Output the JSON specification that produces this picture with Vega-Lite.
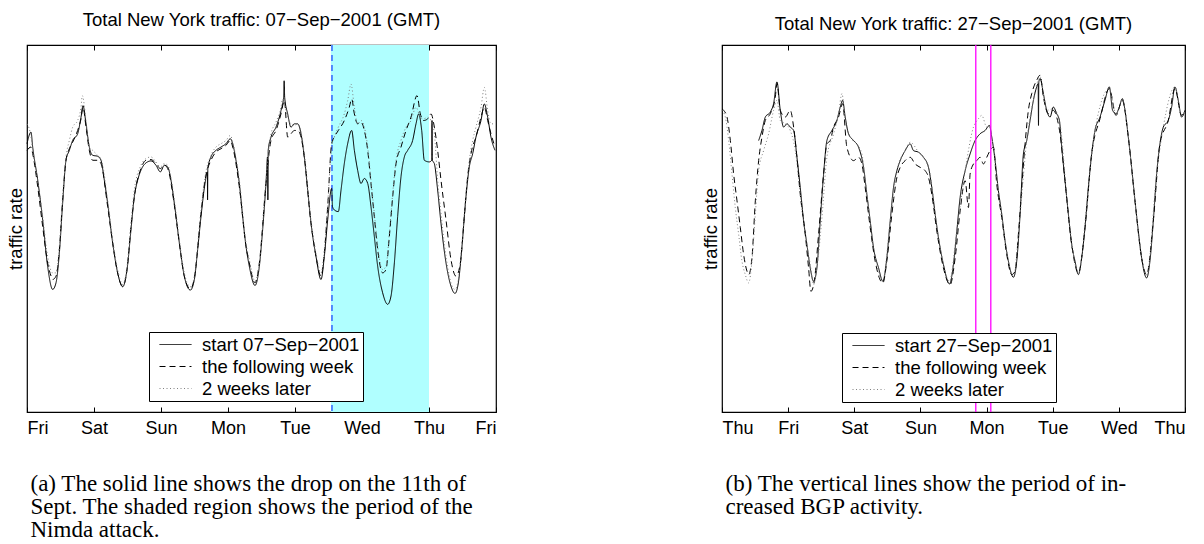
{
"$schema": "https://vega.github.io/schema/vega-lite/v6.json",
"background": "white",
"padding": {"left": 5, "top": 10, "right": 0, "bottom": 0},
"spacing": 202,
"resolve": {"scale": {"color": "independent", "strokeDash": "independent"}, "legend": {"color": "independent", "strokeDash": "independent"}},
"config": {
  "view": {"stroke": "black", "strokeWidth": 1.2},
  "font": "Liberation Sans",
  "axis": {"grid": false, "domain": false, "labelFont": "Liberation Sans", "labelFontSize": 18, "labelColor": "black", "tickColor": "black", "titleColor": "black", "titleFontWeight": "normal", "titleFont": "Liberation Sans"},
  "legend": {"orient": "none", "strokeColor": "black", "fillColor": "white", "padding": 3, "labelFontSize": 18.5, "labelFont": "Liberation Sans", "labelColor": "black", "symbolType": "M-0.22,0H3.33", "symbolSize": 324, "symbolStrokeWidth": 1, "labelOffset": 31, "rowPadding": 3, "labelLimit": 400, "strokeWidth": 1},
  "title": {"fontSize": 18.5, "fontWeight": "normal", "color": "black", "font": "Liberation Sans"}
},
"datasets": {
  "shadeA": [{"x1": 4.537, "x2": 6}],
  "ruleA": [{"x": 4.552}],
  "ruleB": [{"x": 3.837}, {"x": 4.064}],
  "left": [
{"s":"start","d":0,"v":810},{"s":"start","d":0.06,"v":845},{"s":"start","d":0.085,"v":800},{"s":"start","d":0.16,"v":700},{"s":"start","d":0.234,"v":580},{"s":"start","d":0.308,"v":440},{"s":"start","d":0.383,"v":370},{"s":"start","d":0.433,"v":390},{"s":"start","d":0.483,"v":480},{"s":"start","d":0.532,"v":630},{"s":"start","d":0.582,"v":760},{"s":"start","d":0.632,"v":790},{"s":"start","d":0.682,"v":820},{"s":"start","d":0.756,"v":840},{"s":"start","d":0.806,"v":890},{"s":"start","d":0.836,"v":925},{"s":"start","d":0.881,"v":870},{"s":"start","d":0.93,"v":800},{"s":"start","d":0.98,"v":775},{"s":"start","d":1.055,"v":772},{"s":"start","d":1.104,"v":760},{"s":"start","d":1.154,"v":700},{"s":"start","d":1.204,"v":630},{"s":"start","d":1.279,"v":510},{"s":"start","d":1.353,"v":420},{"s":"start","d":1.428,"v":378},{"s":"start","d":1.493,"v":430},{"s":"start","d":1.552,"v":550},{"s":"start","d":1.602,"v":650},{"s":"start","d":1.652,"v":700},{"s":"start","d":1.701,"v":730},{"s":"start","d":1.776,"v":752},{"s":"start","d":1.851,"v":758},{"s":"start","d":1.925,"v":745},{"s":"start","d":1.99,"v":725},{"s":"start","d":2.05,"v":745},{"s":"start","d":2.1,"v":740},{"s":"start","d":2.149,"v":700},{"s":"start","d":2.199,"v":630},{"s":"start","d":2.274,"v":510},{"s":"start","d":2.348,"v":410},{"s":"start","d":2.438,"v":368},{"s":"start","d":2.498,"v":400},{"s":"start","d":2.547,"v":490},{"s":"start","d":2.597,"v":590},{"s":"start","d":2.657,"v":690},{"s":"start","d":2.692,"v":725},{"s":"start","d":2.695,"v":640},{"s":"start","d":2.699,"v":735},{"s":"start","d":2.746,"v":770},{"s":"start","d":2.821,"v":790},{"s":"start","d":2.896,"v":800},{"s":"start","d":2.97,"v":810},{"s":"start","d":3.035,"v":825},{"s":"start","d":3.07,"v":810},{"s":"start","d":3.119,"v":760},{"s":"start","d":3.169,"v":690},{"s":"start","d":3.219,"v":590},{"s":"start","d":3.269,"v":500},{"s":"start","d":3.318,"v":440},{"s":"start","d":3.403,"v":382},{"s":"start","d":3.468,"v":440},{"s":"start","d":3.517,"v":550},{"s":"start","d":3.567,"v":690},{"s":"start","d":3.59,"v":770},{"s":"start","d":3.595,"v":640},{"s":"start","d":3.6,"v":790},{"s":"start","d":3.642,"v":830},{"s":"start","d":3.716,"v":860},{"s":"start","d":3.791,"v":910},{"s":"start","d":3.83,"v":950},{"s":"start","d":3.838,"v":1000},{"s":"start","d":3.846,"v":950},{"s":"start","d":3.891,"v":900},{"s":"start","d":3.94,"v":860},{"s":"start","d":3.99,"v":870},{"s":"start","d":4.04,"v":870},{"s":"start","d":4.09,"v":840},{"s":"start","d":4.139,"v":770},{"s":"start","d":4.189,"v":670},{"s":"start","d":4.239,"v":570},{"s":"start","d":4.313,"v":470},{"s":"start","d":4.388,"v":400},{"s":"start","d":4.438,"v":470},{"s":"start","d":4.488,"v":580},{"s":"start","d":4.547,"v":675},{"s":"start","d":4.56,"v":620},{"s":"start","d":4.587,"v":610},{"s":"start","d":4.647,"v":605},{"s":"start","d":4.687,"v":670},{"s":"start","d":4.736,"v":750},{"s":"start","d":4.786,"v":810},{"s":"start","d":4.846,"v":850},{"s":"start","d":4.886,"v":790},{"s":"start","d":4.935,"v":730},{"s":"start","d":4.985,"v":690},{"s":"start","d":5.035,"v":705},{"s":"start","d":5.085,"v":690},{"s":"start","d":5.134,"v":620},{"s":"start","d":5.184,"v":530},{"s":"start","d":5.234,"v":440},{"s":"start","d":5.308,"v":360},{"s":"start","d":5.383,"v":325},{"s":"start","d":5.433,"v":350},{"s":"start","d":5.483,"v":450},{"s":"start","d":5.532,"v":590},{"s":"start","d":5.582,"v":710},{"s":"start","d":5.632,"v":770},{"s":"start","d":5.682,"v":790},{"s":"start","d":5.756,"v":820},{"s":"start","d":5.806,"v":870},{"s":"start","d":5.846,"v":900},{"s":"start","d":5.891,"v":850},{"s":"start","d":5.93,"v":760},{"s":"start","d":6.005,"v":755},{"s":"start","d":6.04,"v":760},{"s":"start","d":6.045,"v":880},{"s":"start","d":6.05,"v":760},{"s":"start","d":6.08,"v":750},{"s":"start","d":6.129,"v":670},{"s":"start","d":6.179,"v":570},{"s":"start","d":6.254,"v":450},{"s":"start","d":6.328,"v":380},{"s":"start","d":6.388,"v":358},{"s":"start","d":6.438,"v":390},{"s":"start","d":6.488,"v":490},{"s":"start","d":6.552,"v":650},{"s":"start","d":6.602,"v":740},{"s":"start","d":6.652,"v":780},{"s":"start","d":6.701,"v":830},{"s":"start","d":6.776,"v":880},{"s":"start","d":6.826,"v":930},{"s":"start","d":6.876,"v":890},{"s":"start","d":6.925,"v":830},{"s":"start","d":6.985,"v":790},
{"s":"next","d":0,"v":790},{"s":"next","d":0.06,"v":800},{"s":"next","d":0.085,"v":780},{"s":"next","d":0.16,"v":680},{"s":"next","d":0.234,"v":560},{"s":"next","d":0.308,"v":450},{"s":"next","d":0.36,"v":410},{"s":"next","d":0.383,"v":400},{"s":"next","d":0.433,"v":410},{"s":"next","d":0.483,"v":490},{"s":"next","d":0.532,"v":640},{"s":"next","d":0.582,"v":760},{"s":"next","d":0.632,"v":795},{"s":"next","d":0.682,"v":815},{"s":"next","d":0.756,"v":850},{"s":"next","d":0.806,"v":885},{"s":"next","d":0.836,"v":920},{"s":"next","d":0.881,"v":860},{"s":"next","d":0.93,"v":790},{"s":"next","d":0.98,"v":760},{"s":"next","d":1.055,"v":760},{"s":"next","d":1.104,"v":750},{"s":"next","d":1.204,"v":620},{"s":"next","d":1.279,"v":510},{"s":"next","d":1.353,"v":420},{"s":"next","d":1.428,"v":380},{"s":"next","d":1.493,"v":430},{"s":"next","d":1.552,"v":560},{"s":"next","d":1.602,"v":650},{"s":"next","d":1.701,"v":735},{"s":"next","d":1.776,"v":760},{"s":"next","d":1.851,"v":762},{"s":"next","d":1.925,"v":750},{"s":"next","d":1.99,"v":735},{"s":"next","d":2.05,"v":745},{"s":"next","d":2.1,"v":735},{"s":"next","d":2.199,"v":625},{"s":"next","d":2.274,"v":510},{"s":"next","d":2.348,"v":410},{"s":"next","d":2.438,"v":372},{"s":"next","d":2.498,"v":405},{"s":"next","d":2.597,"v":600},{"s":"next","d":2.657,"v":700},{"s":"next","d":2.746,"v":760},{"s":"next","d":2.821,"v":785},{"s":"next","d":2.896,"v":795},{"s":"next","d":2.97,"v":805},{"s":"next","d":3.035,"v":820},{"s":"next","d":3.07,"v":800},{"s":"next","d":3.169,"v":680},{"s":"next","d":3.269,"v":500},{"s":"next","d":3.318,"v":450},{"s":"next","d":3.403,"v":390},{"s":"next","d":3.468,"v":450},{"s":"next","d":3.567,"v":690},{"s":"next","d":3.642,"v":820},{"s":"next","d":3.716,"v":850},{"s":"next","d":3.791,"v":900},{"s":"next","d":3.841,"v":940},{"s":"next","d":3.891,"v":830},{"s":"next","d":3.94,"v":840},{"s":"next","d":3.99,"v":850},{"s":"next","d":4.04,"v":850},{"s":"next","d":4.09,"v":830},{"s":"next","d":4.139,"v":770},{"s":"next","d":4.239,"v":570},{"s":"next","d":4.313,"v":470},{"s":"next","d":4.388,"v":410},{"s":"next","d":4.438,"v":480},{"s":"next","d":4.488,"v":620},{"s":"next","d":4.547,"v":810},{"s":"next","d":4.587,"v":830},{"s":"next","d":4.647,"v":850},{"s":"next","d":4.736,"v":880},{"s":"next","d":4.81,"v":920},{"s":"next","d":4.846,"v":945},{"s":"next","d":4.886,"v":900},{"s":"next","d":4.935,"v":870},{"s":"next","d":4.985,"v":875},{"s":"next","d":5.035,"v":850},{"s":"next","d":5.085,"v":790},{"s":"next","d":5.134,"v":690},{"s":"next","d":5.184,"v":590},{"s":"next","d":5.234,"v":490},{"s":"next","d":5.308,"v":420},{"s":"next","d":5.358,"v":430},{"s":"next","d":5.408,"v":530},{"s":"next","d":5.458,"v":650},{"s":"next","d":5.508,"v":750},{"s":"next","d":5.582,"v":800},{"s":"next","d":5.657,"v":850},{"s":"next","d":5.731,"v":890},{"s":"next","d":5.821,"v":955},{"s":"next","d":5.871,"v":900},{"s":"next","d":5.92,"v":880},{"s":"next","d":5.98,"v":885},{"s":"next","d":6.03,"v":900},{"s":"next","d":6.08,"v":860},{"s":"next","d":6.129,"v":790},{"s":"next","d":6.179,"v":700},{"s":"next","d":6.254,"v":580},{"s":"next","d":6.328,"v":460},{"s":"next","d":6.403,"v":410},{"s":"next","d":6.468,"v":450},{"s":"next","d":6.527,"v":590},{"s":"next","d":6.577,"v":710},{"s":"next","d":6.637,"v":790},{"s":"next","d":6.701,"v":830},{"s":"next","d":6.776,"v":890},{"s":"next","d":6.826,"v":920},{"s":"next","d":6.876,"v":880},{"s":"next","d":6.925,"v":840},{"s":"next","d":6.985,"v":800},
{"s":"later","d":0,"v":870},{"s":"later","d":0.06,"v":830},{"s":"later","d":0.085,"v":790},{"s":"later","d":0.16,"v":700},{"s":"later","d":0.234,"v":590},{"s":"later","d":0.308,"v":470},{"s":"later","d":0.383,"v":420},{"s":"later","d":0.433,"v":420},{"s":"later","d":0.483,"v":500},{"s":"later","d":0.532,"v":650},{"s":"later","d":0.582,"v":770},{"s":"later","d":0.632,"v":820},{"s":"later","d":0.682,"v":860},{"s":"later","d":0.756,"v":880},{"s":"later","d":0.806,"v":920},{"s":"later","d":0.826,"v":955},{"s":"later","d":0.881,"v":880},{"s":"later","d":0.93,"v":800},{"s":"later","d":0.98,"v":790},{"s":"later","d":1.055,"v":775},{"s":"later","d":1.104,"v":765},{"s":"later","d":1.204,"v":640},{"s":"later","d":1.279,"v":520},{"s":"later","d":1.353,"v":430},{"s":"later","d":1.428,"v":385},{"s":"later","d":1.493,"v":440},{"s":"later","d":1.552,"v":570},{"s":"later","d":1.602,"v":670},{"s":"later","d":1.701,"v":745},{"s":"later","d":1.776,"v":765},{"s":"later","d":1.851,"v":770},{"s":"later","d":1.925,"v":755},{"s":"later","d":1.99,"v":740},{"s":"later","d":2.05,"v":750},{"s":"later","d":2.1,"v":745},{"s":"later","d":2.199,"v":640},{"s":"later","d":2.274,"v":520},{"s":"later","d":2.348,"v":420},{"s":"later","d":2.438,"v":378},{"s":"later","d":2.498,"v":410},{"s":"later","d":2.597,"v":610},{"s":"later","d":2.657,"v":710},{"s":"later","d":2.746,"v":775},{"s":"later","d":2.821,"v":800},{"s":"later","d":2.896,"v":810},{"s":"later","d":2.97,"v":820},{"s":"later","d":3.035,"v":835},{"s":"later","d":3.07,"v":815},{"s":"later","d":3.169,"v":700},{"s":"later","d":3.269,"v":510},{"s":"later","d":3.318,"v":460},{"s":"later","d":3.403,"v":395},{"s":"later","d":3.468,"v":450},{"s":"later","d":3.567,"v":700},{"s":"later","d":3.642,"v":840},{"s":"later","d":3.716,"v":875},{"s":"later","d":3.791,"v":920},{"s":"later","d":3.816,"v":945},{"s":"later","d":3.891,"v":890},{"s":"later","d":3.94,"v":870},{"s":"later","d":3.99,"v":865},{"s":"later","d":4.04,"v":870},{"s":"later","d":4.09,"v":845},{"s":"later","d":4.139,"v":780},{"s":"later","d":4.239,"v":580},{"s":"later","d":4.313,"v":480},{"s":"later","d":4.388,"v":420},{"s":"later","d":4.438,"v":490},{"s":"later","d":4.488,"v":630},{"s":"later","d":4.547,"v":800},{"s":"later","d":4.587,"v":830},{"s":"later","d":4.647,"v":860},{"s":"later","d":4.736,"v":900},{"s":"later","d":4.786,"v":940},{"s":"later","d":4.836,"v":990},{"s":"later","d":4.886,"v":920},{"s":"later","d":4.935,"v":870},{"s":"later","d":4.985,"v":880},{"s":"later","d":5.035,"v":860},{"s":"later","d":5.085,"v":800},{"s":"later","d":5.134,"v":700},{"s":"later","d":5.184,"v":600},{"s":"later","d":5.234,"v":500},{"s":"later","d":5.308,"v":430},{"s":"later","d":5.358,"v":440},{"s":"later","d":5.408,"v":540},{"s":"later","d":5.458,"v":660},{"s":"later","d":5.508,"v":760},{"s":"later","d":5.582,"v":820},{"s":"later","d":5.657,"v":860},{"s":"later","d":5.731,"v":880},{"s":"later","d":5.806,"v":920},{"s":"later","d":5.871,"v":890},{"s":"later","d":5.92,"v":885},{"s":"later","d":5.98,"v":890},{"s":"later","d":6.03,"v":880},{"s":"later","d":6.08,"v":840},{"s":"later","d":6.129,"v":700},{"s":"later","d":6.179,"v":600},{"s":"later","d":6.254,"v":470},{"s":"later","d":6.328,"v":390},{"s":"later","d":6.388,"v":370},{"s":"later","d":6.438,"v":400},{"s":"later","d":6.488,"v":500},{"s":"later","d":6.552,"v":660},{"s":"later","d":6.602,"v":760},{"s":"later","d":6.652,"v":820},{"s":"later","d":6.701,"v":860},{"s":"later","d":6.776,"v":920},{"s":"later","d":6.826,"v":980},{"s":"later","d":6.876,"v":910},{"s":"later","d":6.925,"v":870},{"s":"later","d":6.985,"v":870}
  ],
  "right": [
{"s":"start","d":0.554,"v":810},{"s":"start","d":0.604,"v":840},{"s":"start","d":0.655,"v":880},{"s":"start","d":0.73,"v":895},{"s":"start","d":0.78,"v":920},{"s":"start","d":0.831,"v":985},{"s":"start","d":0.881,"v":900},{"s":"start","d":0.932,"v":850},{"s":"start","d":0.982,"v":860},{"s":"start","d":1.032,"v":850},{"s":"start","d":1.083,"v":840},{"s":"start","d":1.133,"v":760},{"s":"start","d":1.183,"v":670},{"s":"start","d":1.234,"v":570},{"s":"start","d":1.284,"v":500},{"s":"start","d":1.334,"v":430},{"s":"start","d":1.385,"v":390},{"s":"start","d":1.435,"v":430},{"s":"start","d":1.485,"v":570},{"s":"start","d":1.536,"v":710},{"s":"start","d":1.586,"v":810},{"s":"start","d":1.662,"v":840},{"s":"start","d":1.737,"v":870},{"s":"start","d":1.788,"v":910},{"s":"start","d":1.823,"v":930},{"s":"start","d":1.863,"v":880},{"s":"start","d":1.913,"v":830},{"s":"start","d":1.989,"v":810},{"s":"start","d":2.064,"v":790},{"s":"start","d":2.14,"v":730},{"s":"start","d":2.19,"v":650},{"s":"start","d":2.241,"v":570},{"s":"start","d":2.291,"v":490},{"s":"start","d":2.367,"v":430},{"s":"start","d":2.432,"v":390},{"s":"start","d":2.492,"v":460},{"s":"start","d":2.543,"v":570},{"s":"start","d":2.593,"v":670},{"s":"start","d":2.644,"v":720},{"s":"start","d":2.694,"v":750},{"s":"start","d":2.769,"v":780},{"s":"start","d":2.845,"v":800},{"s":"start","d":2.895,"v":780},{"s":"start","d":2.971,"v":775},{"s":"start","d":3.046,"v":760},{"s":"start","d":3.122,"v":730},{"s":"start","d":3.172,"v":670},{"s":"start","d":3.223,"v":590},{"s":"start","d":3.273,"v":520},{"s":"start","d":3.348,"v":440},{"s":"start","d":3.439,"v":382},{"s":"start","d":3.499,"v":440},{"s":"start","d":3.55,"v":540},{"s":"start","d":3.6,"v":640},{"s":"start","d":3.676,"v":720},{"s":"start","d":3.751,"v":770},{"s":"start","d":3.827,"v":810},{"s":"start","d":3.902,"v":830},{"s":"start","d":3.978,"v":840},{"s":"start","d":4.043,"v":855},{"s":"start","d":4.079,"v":820},{"s":"start","d":4.129,"v":750},{"s":"start","d":4.179,"v":660},{"s":"start","d":4.23,"v":590},{"s":"start","d":4.28,"v":510},{"s":"start","d":4.33,"v":450},{"s":"start","d":4.406,"v":402},{"s":"start","d":4.456,"v":450},{"s":"start","d":4.507,"v":590},{"s":"start","d":4.557,"v":770},{"s":"start","d":4.607,"v":810},{"s":"start","d":4.658,"v":870},{"s":"start","d":4.708,"v":930},{"s":"start","d":4.758,"v":970},{"s":"start","d":4.78,"v":980},{"s":"start","d":4.785,"v":855},{"s":"start","d":4.79,"v":985},{"s":"start","d":4.809,"v":995},{"s":"start","d":4.859,"v":950},{"s":"start","d":4.909,"v":900},{"s":"start","d":4.96,"v":880},{"s":"start","d":5.01,"v":910},{"s":"start","d":5.06,"v":890},{"s":"start","d":5.101,"v":870},{"s":"start","d":5.136,"v":790},{"s":"start","d":5.186,"v":690},{"s":"start","d":5.237,"v":590},{"s":"start","d":5.287,"v":500},{"s":"start","d":5.337,"v":450},{"s":"start","d":5.388,"v":410},{"s":"start","d":5.438,"v":460},{"s":"start","d":5.488,"v":550},{"s":"start","d":5.539,"v":670},{"s":"start","d":5.589,"v":770},{"s":"start","d":5.639,"v":840},{"s":"start","d":5.715,"v":880},{"s":"start","d":5.79,"v":930},{"s":"start","d":5.856,"v":970},{"s":"start","d":5.906,"v":900},{"s":"start","d":5.957,"v":890},{"s":"start","d":6.007,"v":910},{"s":"start","d":6.052,"v":935},{"s":"start","d":6.093,"v":900},{"s":"start","d":6.143,"v":820},{"s":"start","d":6.193,"v":730},{"s":"start","d":6.244,"v":630},{"s":"start","d":6.294,"v":540},{"s":"start","d":6.344,"v":460},{"s":"start","d":6.42,"v":400},{"s":"start","d":6.47,"v":450},{"s":"start","d":6.521,"v":570},{"s":"start","d":6.571,"v":710},{"s":"start","d":6.621,"v":800},{"s":"start","d":6.672,"v":850},{"s":"start","d":6.747,"v":870},{"s":"start","d":6.798,"v":910},{"s":"start","d":6.848,"v":970},{"s":"start","d":6.898,"v":930},{"s":"start","d":6.949,"v":880},{"s":"start","d":6.999,"v":900},
{"s":"next","d":0,"v":905},{"s":"next","d":0.025,"v":900},{"s":"next","d":0.076,"v":880},{"s":"next","d":0.126,"v":810},{"s":"next","d":0.176,"v":710},{"s":"next","d":0.227,"v":630},{"s":"next","d":0.277,"v":550},{"s":"next","d":0.327,"v":470},{"s":"next","d":0.378,"v":420},{"s":"next","d":0.403,"v":410},{"s":"next","d":0.453,"v":460},{"s":"next","d":0.504,"v":630},{"s":"next","d":0.554,"v":750},{"s":"next","d":0.604,"v":820},{"s":"next","d":0.655,"v":870},{"s":"next","d":0.73,"v":890},{"s":"next","d":0.806,"v":940},{"s":"next","d":0.831,"v":980},{"s":"next","d":0.881,"v":900},{"s":"next","d":0.957,"v":880},{"s":"next","d":1.032,"v":900},{"s":"next","d":1.083,"v":850},{"s":"next","d":1.133,"v":760},{"s":"next","d":1.183,"v":650},{"s":"next","d":1.259,"v":530},{"s":"next","d":1.309,"v":430},{"s":"next","d":1.344,"v":360},{"s":"next","d":1.395,"v":390},{"s":"next","d":1.46,"v":530},{"s":"next","d":1.536,"v":710},{"s":"next","d":1.586,"v":800},{"s":"next","d":1.636,"v":810},{"s":"next","d":1.687,"v":850},{"s":"next","d":1.762,"v":880},{"s":"next","d":1.823,"v":920},{"s":"next","d":1.888,"v":790},{"s":"next","d":1.989,"v":750},{"s":"next","d":2.064,"v":760},{"s":"next","d":2.115,"v":740},{"s":"next","d":2.165,"v":670},{"s":"next","d":2.241,"v":550},{"s":"next","d":2.316,"v":450},{"s":"next","d":2.432,"v":385},{"s":"next","d":2.492,"v":450},{"s":"next","d":2.568,"v":590},{"s":"next","d":2.644,"v":700},{"s":"next","d":2.694,"v":730},{"s":"next","d":2.769,"v":750},{"s":"next","d":2.845,"v":760},{"s":"next","d":2.92,"v":740},{"s":"next","d":2.996,"v":730},{"s":"next","d":3.071,"v":720},{"s":"next","d":3.122,"v":700},{"s":"next","d":3.172,"v":650},{"s":"next","d":3.248,"v":540},{"s":"next","d":3.348,"v":430},{"s":"next","d":3.449,"v":380},{"s":"next","d":3.525,"v":460},{"s":"next","d":3.6,"v":600},{"s":"next","d":3.676,"v":690},{"s":"next","d":3.726,"v":610},{"s":"next","d":3.751,"v":710},{"s":"next","d":3.802,"v":740},{"s":"next","d":3.852,"v":750},{"s":"next","d":3.902,"v":760},{"s":"next","d":3.953,"v":740},{"s":"next","d":4.003,"v":760},{"s":"next","d":4.053,"v":780},{"s":"next","d":4.104,"v":790},{"s":"next","d":4.154,"v":680},{"s":"next","d":4.23,"v":580},{"s":"next","d":4.305,"v":470},{"s":"next","d":4.381,"v":410},{"s":"next","d":4.431,"v":420},{"s":"next","d":4.481,"v":530},{"s":"next","d":4.532,"v":670},{"s":"next","d":4.582,"v":800},{"s":"next","d":4.632,"v":900},{"s":"next","d":4.683,"v":950},{"s":"next","d":4.758,"v":990},{"s":"next","d":4.809,"v":1005},{"s":"next","d":4.859,"v":940},{"s":"next","d":4.935,"v":890},{"s":"next","d":5.01,"v":900},{"s":"next","d":5.06,"v":880},{"s":"next","d":5.111,"v":830},{"s":"next","d":5.186,"v":690},{"s":"next","d":5.287,"v":500},{"s":"next","d":5.388,"v":415},{"s":"next","d":5.488,"v":550},{"s":"next","d":5.589,"v":770},{"s":"next","d":5.715,"v":875},{"s":"next","d":5.856,"v":965},{"s":"next","d":5.957,"v":885},{"s":"next","d":6.052,"v":930},{"s":"next","d":6.143,"v":820},{"s":"next","d":6.244,"v":630},{"s":"next","d":6.344,"v":460},{"s":"next","d":6.42,"v":410},{"s":"next","d":6.521,"v":570},{"s":"next","d":6.621,"v":800},{"s":"next","d":6.747,"v":870},{"s":"next","d":6.848,"v":965},{"s":"next","d":6.949,"v":885},{"s":"next","d":6.999,"v":900},
{"s":"later","d":0,"v":900},{"s":"later","d":0.05,"v":880},{"s":"later","d":0.101,"v":810},{"s":"later","d":0.151,"v":710},{"s":"later","d":0.201,"v":610},{"s":"later","d":0.252,"v":530},{"s":"later","d":0.302,"v":450},{"s":"later","d":0.352,"v":410},{"s":"later","d":0.403,"v":385},{"s":"later","d":0.453,"v":450},{"s":"later","d":0.504,"v":590},{"s":"later","d":0.554,"v":720},{"s":"later","d":0.629,"v":780},{"s":"later","d":0.705,"v":830},{"s":"later","d":0.78,"v":900},{"s":"later","d":0.831,"v":930},{"s":"later","d":0.881,"v":870},{"s":"later","d":0.957,"v":860},{"s":"later","d":1.032,"v":840},{"s":"later","d":1.108,"v":780},{"s":"later","d":1.183,"v":650},{"s":"later","d":1.259,"v":530},{"s":"later","d":1.334,"v":440},{"s":"later","d":1.385,"v":380},{"s":"later","d":1.435,"v":430},{"s":"later","d":1.511,"v":580},{"s":"later","d":1.586,"v":760},{"s":"later","d":1.687,"v":830},{"s":"later","d":1.762,"v":890},{"s":"later","d":1.813,"v":950},{"s":"later","d":1.863,"v":870},{"s":"later","d":1.939,"v":820},{"s":"later","d":2.039,"v":800},{"s":"later","d":2.115,"v":770},{"s":"later","d":2.19,"v":650},{"s":"later","d":2.291,"v":490},{"s":"later","d":2.432,"v":395},{"s":"later","d":2.543,"v":570},{"s":"later","d":2.644,"v":720},{"s":"later","d":2.769,"v":780},{"s":"later","d":2.845,"v":805},{"s":"later","d":2.971,"v":775},{"s":"later","d":3.122,"v":730},{"s":"later","d":3.273,"v":520},{"s":"later","d":3.439,"v":390},{"s":"later","d":3.55,"v":540},{"s":"later","d":3.676,"v":720},{"s":"later","d":3.802,"v":850},{"s":"later","d":3.877,"v":875},{"s":"later","d":3.927,"v":885},{"s":"later","d":4.003,"v":850},{"s":"later","d":4.043,"v":850},{"s":"later","d":4.079,"v":820},{"s":"later","d":4.179,"v":660},{"s":"later","d":4.28,"v":510},{"s":"later","d":4.406,"v":405},{"s":"later","d":4.507,"v":590},{"s":"later","d":4.607,"v":810},{"s":"later","d":4.708,"v":930},{"s":"later","d":4.809,"v":1000},{"s":"later","d":4.909,"v":900},{"s":"later","d":5.01,"v":905},{"s":"later","d":5.101,"v":870},{"s":"later","d":5.237,"v":590},{"s":"later","d":5.388,"v":415},{"s":"later","d":5.539,"v":670},{"s":"later","d":5.639,"v":840},{"s":"later","d":5.856,"v":965},{"s":"later","d":5.957,"v":890},{"s":"later","d":6.052,"v":930},{"s":"later","d":6.193,"v":730},{"s":"later","d":6.344,"v":460},{"s":"later","d":6.42,"v":405},{"s":"later","d":6.571,"v":710},{"s":"later","d":6.672,"v":850},{"s":"later","d":6.848,"v":970},{"s":"later","d":6.949,"v":880},{"s":"later","d":6.999,"v":900}
  ]
},
"hconcat": [
  {
    "width": 469, "height": 367,
    "title": {"text": "Total New York traffic: 07−Sep−2001 (GMT)", "offset": 15},
    "layer": [
      {"data": {"name": "shadeA"}, "mark": {"type": "rect", "color": "#b0ffff"},
       "encoding": {
         "x": {"field": "x1", "type": "quantitative", "scale": {"domain": [0, 7], "nice": false, "zero": false},
               "axis": {"orient": "top", "labels": false, "ticks": true, "tickSize": -5, "values": [0,1,2,3,4,5,6,7], "title": null}},
         "x2": {"field": "x2"}}},
      {"data": {"name": "ruleA"}, "mark": {"type": "rule", "color": "#3366ff", "strokeDash": [6, 4], "strokeWidth": 1.5},
       "encoding": {"x": {"field": "x", "type": "quantitative", "axis": null}}},
      {"data": {"name": "left"}, "mark": {"type": "line", "strokeWidth": 1, "interpolate": "monotone"},
       "encoding": {
         "x": {"field": "d", "type": "quantitative", "scale": {"domain": [0, 7], "nice": false, "zero": false},
               "axis": {"orient": "bottom", "values": [0,1,2,3,4,5,6,7], "tickSize": -5, "labelPadding": 26, "labelBaseline": "alphabetic",
                        "labelExpr": "['Fri','Sat','Sun','Mon','Tue','Wed','Thu','Fri'][datum.value]",
                        "title": ["(a) The solid line shows the drop on the 11th of", "Sept. The shaded region shows the period of the", "Nimda attack."],
                        "titleFont": "Liberation Serif", "titleFontSize": 23, "titleAlign": "left", "titleAnchor": "start", "titleX": 3, "titleY": 78, "titleBaseline": "alphabetic", "titleLineHeight": 23}},
         "y": {"field": "v", "type": "quantitative", "scale": {"domain": [0, 1108], "nice": false, "zero": false},
               "axis": {"title": "traffic rate", "labels": false, "ticks": false, "titlePadding": 2, "titleFontSize": 18.5}},
         "color": {"field": "s", "type": "nominal", "scale": {"domain": ["start", "next", "later"], "range": ["black", "black", "#808080"]},
                   "legend": {"title": null, "legendX": 122, "legendY": 287, "labelExpr": "datum.label == 'start' ? 'start 07−Sep−2001' : datum.label == 'next' ? 'the following week' : '2 weeks later'"}},
         "strokeDash": {"field": "s", "type": "nominal", "scale": {"domain": ["start", "next", "later"], "range": [[1, 0], [6, 4], [1, 2.5]]},
                   "legend": {"title": null, "legendX": 122, "legendY": 287, "labelExpr": "datum.label == 'start' ? 'start 07−Sep−2001' : datum.label == 'next' ? 'the following week' : '2 weeks later'"}}
       }}
    ],
    "resolve": {"axis": {"x": "independent"}}
  },
  {
    "width": 463, "height": 367,
    "title": {"text": "Total New York traffic: 27−Sep−2001 (GMT)", "offset": 11},
    "layer": [
      {"data": {"name": "right"}, "mark": {"type": "line", "strokeWidth": 1, "interpolate": "monotone"},
       "encoding": {
         "x": {"field": "d", "type": "quantitative", "scale": {"domain": [0, 7], "nice": false, "zero": false},
               "axis": {"orient": "bottom", "values": [0,1,2,3,4,5,6,7], "tickSize": -5, "labelPadding": 26, "labelBaseline": "alphabetic",
                        "labelExpr": "['Thu','Fri','Sat','Sun','Mon','Tue','Wed','Thu'][datum.value]",
                        "title": ["(b) The vertical lines show the period of in-", "creased BGP activity."],
                        "titleFont": "Liberation Serif", "titleFontSize": 23, "titleAlign": "left", "titleAnchor": "start", "titleX": 3, "titleY": 78, "titleBaseline": "alphabetic", "titleLineHeight": 23}},
         "y": {"field": "v", "type": "quantitative", "scale": {"domain": [0, 1095], "nice": false, "zero": false},
               "axis": {"title": "traffic rate", "labels": false, "ticks": false, "titlePadding": 2, "titleFontSize": 18.5}},
         "color": {"field": "s", "type": "nominal", "scale": {"domain": ["start", "next", "later"], "range": ["black", "black", "#808080"]},
                   "legend": {"title": null, "legendX": 120, "legendY": 288, "labelExpr": "datum.label == 'start' ? 'start 27−Sep−2001' : datum.label == 'next' ? 'the following week' : '2 weeks later'"}},
         "strokeDash": {"field": "s", "type": "nominal", "scale": {"domain": ["start", "next", "later"], "range": [[1, 0], [6, 4], [1, 2.5]]},
                   "legend": {"title": null, "legendX": 120, "legendY": 288, "labelExpr": "datum.label == 'start' ? 'start 27−Sep−2001' : datum.label == 'next' ? 'the following week' : '2 weeks later'"}}
       }},
      {"data": {"name": "ruleB"}, "mark": {"type": "rule", "color": "#ff00ff", "strokeWidth": 1.3},
       "encoding": {"x": {"field": "x", "type": "quantitative",
               "axis": {"orient": "top", "labels": false, "ticks": true, "tickSize": -5, "values": [0,1,2,3,4,5,6,7], "title": null}}}}
    ],
    "resolve": {"axis": {"x": "independent"}}
  }
]
}
